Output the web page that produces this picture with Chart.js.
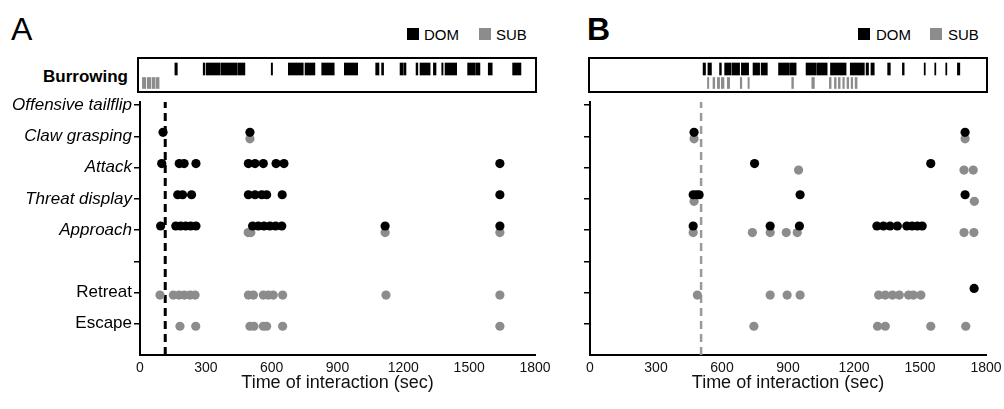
<!DOCTYPE html>
<html>
<head>
<meta charset="utf-8">
<title>Agonistic behaviour timeline</title>
<script src="https://cdn.jsdelivr.net/npm/chart.js@4.4.1/dist/chart.umd.min.js"></script>
<style>
  body { margin: 0; background: #fff; font-family: "Liberation Sans", Arial, sans-serif; }
  #page { position: relative; width: 1004px; height: 409px; overflow: hidden; }
  .txt { position: absolute; white-space: nowrap; color: #000; }
  .sw { position: absolute; width: 12px; height: 12px; }
  .raster { position: absolute; width: 396px; height: 32px; border: 2px solid #000; }
  canvas { position: absolute; left: 0; top: 0; }
</style>
</head>
<body>
<div id="page">
  <div class="txt" style="left:11px;top:13px;font-size:32px;line-height:32px;">A</div>
  <div class="txt" style="left:587px;top:13px;font-size:32px;line-height:32px;font-weight:bold;">B</div>

  <div class="sw" style="left:407px;top:28px;background:#000;"></div>
  <div class="txt" style="left:424px;top:27px;font-size:15px;line-height:15px;">DOM</div>
  <div class="sw" style="left:479px;top:28px;background:#8c8c8c;"></div>
  <div class="txt" style="left:496px;top:27px;font-size:15px;line-height:15px;">SUB</div>

  <div class="sw" style="left:858px;top:28px;background:#000;"></div>
  <div class="txt" style="left:876px;top:27px;font-size:15px;line-height:15px;">DOM</div>
  <div class="sw" style="left:930px;top:28px;background:#8c8c8c;"></div>
  <div class="txt" style="left:948px;top:27px;font-size:15px;line-height:15px;">SUB</div>

  <div class="txt" style="left:0;width:128px;text-align:right;top:68px;font-size:17px;line-height:17px;font-weight:bold;">Burrowing</div>

  <div class="raster" style="left:137px;top:57px;"><canvas id="rasterA" width="396" height="32"></canvas></div>
  <div class="raster" style="left:588px;top:57px;"><canvas id="rasterB" width="396" height="32"></canvas></div>

  <canvas id="plotA" width="560" height="314" style="left:0;top:95px;"></canvas>
  <canvas id="plotB" width="444" height="314" style="left:560px;top:95px;"></canvas>
</div>

<script>
// rows from top to bottom; the empty one is a spacer row
const behaviours = ['Offensive tailflip', 'Claw grasping', 'Attack', 'Threat display', 'Approach', '', 'Retreat', 'Escape'];

// event times (sec), one list per row, same order as behaviours
const domA = [
  [],
  [105, 501],
  [99, 179, 201, 255, 494, 524, 562, 620, 656, 1640],
  [172, 194, 235, 494, 524, 555, 577, 648, 1640],
  [94, 163, 185, 208, 231, 255, 513, 539, 565, 592, 618, 646, 1117, 1640],
  [],
  [],
  []
];
const subA = [
  [],
  [501],
  [],
  [],
  [493, 505, 1117, 1640],
  [],
  [91, 152, 178, 202, 228, 251, 494, 517, 562, 585, 607, 650, 1121, 1640],
  [182, 254, 501, 519, 562, 577, 650, 1640]
];
const domB = [
  [],
  [473, 1705],
  [748, 1549],
  [469, 484, 496, 955, 1705],
  [469, 819, 952, 1304, 1334, 1364, 1397, 1440, 1464, 1488, 1510],
  [],
  [1746],
  []
];
const subB = [
  [],
  [473, 1705],
  [948, 1700, 1742],
  [473, 1747],
  [469, 738, 819, 892, 942, 1700, 1745],
  [],
  [488, 819, 896, 955, 1312, 1342, 1375, 1406, 1448, 1470, 1504],
  [745, 1307, 1342, 1549, 1708]
];

// burrowing bouts [start, end] in sec
const burrowDomA = [[159, 170], [288, 295], [301, 365], [369, 441], [445, 478], [598, 604], [676, 744], [752, 797],
  [828, 885], [931, 992], [1074, 1089], [1101, 1110], [1185, 1200], [1204, 1212], [1258, 1266], [1276, 1322],
  [1337, 1349], [1375, 1381], [1390, 1443], [1493, 1527], [1530, 1549], [1587, 1605], [1698, 1736]];
const burrowSubA = [[11, 26], [33, 50], [56, 68], [73, 87]];
const burrowDomB = [[514, 525], [536, 552], [589, 597], [612, 642], [647, 680], [688, 721], [741, 771], [778, 806],
  [857, 903], [907, 937], [982, 1029], [1033, 1078], [1093, 1164], [1183, 1247], [1255, 1266], [1277, 1292],
  [1353, 1365], [1420, 1428], [1519, 1524], [1567, 1572], [1617, 1622], [1670, 1681]];
const burrowSubB = [[534, 540], [559, 567], [579, 589], [597, 609], [624, 635], [683, 690], [718, 724], [917, 925],
  [1008, 1020], [1088, 1096], [1111, 1119], [1129, 1137], [1149, 1156], [1168, 1176], [1187, 1194], [1205, 1214]];

// time of the dashed reference line
const markerA = 115;
const markerB = 505;

const FONT = "'Liberation Sans', Arial, sans-serif";
Chart.defaults.font.family = FONT;
Chart.defaults.color = '#000';

const GREY = '#8c8c8c';
const topRow = behaviours.length; // y value of the first row

function toPoints(rows, shift) {
  const pts = [];
  rows.forEach((times, i) => times.forEach(t => pts.push({ x: t, y: topRow - i + shift })));
  return pts;
}

function makePlot(id, dom, sub, marker, markerColor, markerWidth, showLabels, axisWidth, padRight) {
  new Chart(document.getElementById(id), {
    type: 'scatter',
    data: {
      datasets: [
        {
          label: 'DOM', data: toPoints(dom, 0.13), backgroundColor: '#000',
          pointRadius: 4.6, borderWidth: 0, order: 0, clip: false
        },
        {
          label: 'SUB', data: toPoints(sub, -0.08), backgroundColor: GREY,
          pointRadius: 4.6, borderWidth: 0, order: 1, clip: false
        },
        {
          type: 'line', label: 'start', data: [{ x: marker, y: 0 }, { x: marker, y: topRow + 0.1 }],
          borderColor: markerColor, borderWidth: markerWidth, borderDash: [8, 5],
          pointRadius: 0, order: 2, clip: false
        }
      ]
    },
    options: {
      responsive: false,
      animation: false,
      layout: { padding: { left: 0, right: padRight, top: 7, bottom: 0 } },
      plugins: { legend: { display: false }, tooltip: { enabled: false } },
      scales: {
        x: {
          type: 'linear', min: 0, max: 1800,
          afterFit: s => { s.height = 54; s.paddingLeft = 0; s.paddingRight = 0; },
          ticks: { stepSize: 300, padding: 5, color: '#111', font: { size: 14 }, callback: v => String(v) },
          grid: { display: true, drawOnChartArea: false, drawTicks: false },
          border: { display: true, color: '#000', width: 2 },
          title: {
            display: true, text: 'Time of interaction (sec)', color: '#111',
            font: { size: 18 }, padding: { top: 0, bottom: 15 }
          }
        },
        y: {
          type: 'linear', min: 0, max: topRow + 0.1,
          afterBuildTicks: s => { s.ticks = s.ticks.filter(t => t.value >= 1 && t.value <= topRow); },
          afterFit: s => { s.width = axisWidth; s.paddingTop = 0; s.paddingBottom = 0; },
          ticks: {
            stepSize: 1, includeBounds: false, padding: 2, color: '#000',
            callback: v => showLabels ? (behaviours[topRow - v] || '') : '',
            font: ctx => {
              const name = ctx.tick ? behaviours[topRow - ctx.tick.value] : '';
              const plain = name === 'Retreat' || name === 'Escape';
              return { family: FONT, size: 17, style: plain ? 'normal' : 'italic' };
            }
          },
          grid: { drawOnChartArea: false, drawTicks: true, tickLength: 6, color: '#000', lineWidth: 1.5 },
          border: { display: true, color: '#000', width: 2 }
        }
      }
    }
  });
}

function makeRaster(id, domBouts, subBouts, padLeft) {
  new Chart(document.getElementById(id), {
    type: 'bar',
    data: {
      datasets: [
        {
          label: 'DOM', data: domBouts.map(b => ({ x: b, y: 'DOM' })),
          backgroundColor: '#000', barThickness: 12, grouped: false, borderWidth: 0
        },
        {
          label: 'SUB', data: subBouts.map(b => ({ x: b, y: 'SUB' })),
          backgroundColor: GREY, barThickness: 11, grouped: false, borderWidth: 0
        }
      ]
    },
    options: {
      indexAxis: 'y',
      responsive: false,
      animation: false,
      layout: { padding: { left: padLeft, right: 0, top: 3, bottom: 1 } },
      plugins: { legend: { display: false }, tooltip: { enabled: false } },
      scales: {
        x: { type: 'linear', min: 0, max: 1800, display: false },
        y: { type: 'category', labels: ['DOM', 'SUB'], display: false, offset: true }
      }
    }
  });
}

makeRaster('rasterA', burrowDomA, burrowSubA, 1);
makeRaster('rasterB', burrowDomB, burrowSubB, 0);
makePlot('plotA', domA, subA, markerA, '#000', 3, true, 140, 25);
makePlot('plotB', domB, subB, markerB, '#9a9a9a', 2.5, false, 30, 18);
</script>
</body>
</html>
